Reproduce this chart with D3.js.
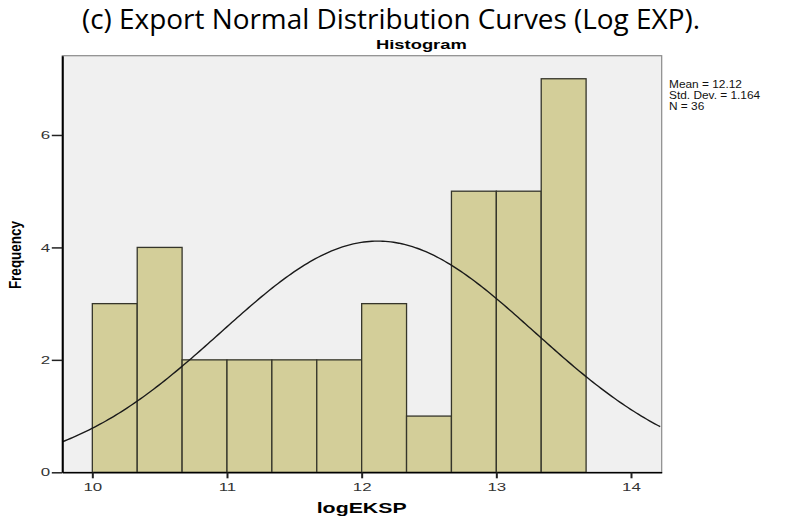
<!DOCTYPE html>
<html>
<head>
<meta charset="utf-8">
<script src="https://cdn.jsdelivr.net/npm/d3@7"></script>
<style>
  body { margin: 0; background: #fff; }
  text { font-family: "Liberation Sans", Arial, sans-serif; }
</style>
</head>
<body>
<div id="main-container"></div>
<script>
var width = 791,
    height = 522

// bins of logEKSP (lower edge), width 1/3
var binStarts = [10, 10.3333, 10.6667, 11, 11.3333, 11.6667, 12, 12.3333, 12.6667, 13, 13.3333]
var binCounts = [3, 4, 2, 2, 2, 2, 3, 1, 5, 5, 7]
var binWidth = 0.3333
var xTicks = [10, 11, 12, 13, 14]
var yTicks = [0, 2, 4, 6]
var statMean = 12.12, statSd = 1.164, statN = 36
var statLines = ["Mean = 12.12", "Std. Dev. = 1.164", "N = 36"]

var plot = {left: 62.3, right: 661.7, top: 55.7, bottom: 472.3}
var sx = 1.47 // the SPSS picture is stretched sideways

var svg = d3.select("#main-container").append("svg")
  .attr("width", width)
  .attr("height", height)

var x = d3.scaleLinear()
  .domain([9.777, 14.228])
  .range([plot.left, plot.right])

var y = d3.scaleLinear()
  .domain([0, 7.41])
  .range([plot.bottom, plot.top])

// plot background
svg.append("rect")
  .attr("x", plot.left)
  .attr("y", plot.top)
  .attr("width", plot.right - plot.left)
  .attr("height", plot.bottom - plot.top)
  .attr("fill", "#f0f0f0")
  .attr("stroke", "#8a8a8a")
  .attr("stroke-width", 1.2)

// bars
svg.append("g").selectAll("rect")
  .data(binCounts)
  .enter()
  .append("rect")
    .attr("x", function(d, i){ return x(binStarts[i]) })
    .attr("width", function(d, i){ return x(binStarts[i] + binWidth) - x(binStarts[i]) })
    .attr("y", function(d){ return y(d) })
    .attr("height", function(d){ return y(0) - y(d) })
    .attr("fill", "#d3ce99")
    .attr("stroke", "#35352a")
    .attr("stroke-width", 1.3)

// normal curve from the stats
var curvePts = d3.range(x.domain()[0], x.domain()[1] + 0.001, 0.02).map(function(v){
  var z = (v - statMean) / statSd
  return [v, statN * binWidth * Math.exp(-0.5 * z * z) / (statSd * Math.sqrt(2 * Math.PI))]
})

svg.append("clipPath").attr("id", "clip")
  .append("rect")
  .attr("x", plot.left).attr("y", plot.top)
  .attr("width", plot.right - plot.left).attr("height", plot.bottom - plot.top)

svg.append("path")
  .datum(curvePts)
  .attr("clip-path", "url(#clip)")
  .attr("fill", "none")
  .attr("stroke", "#1a1a1a")
  .attr("stroke-width", 1.4)
  .attr("d", d3.line()
    .x(function(d){ return x(d[0]) })
    .y(function(d){ return y(d[1]) }))

// axes
var xAxis = svg.append("g")
  .attr("transform", "translate(0," + plot.bottom + ")")
  .call(d3.axisBottom(x).tickValues(xTicks).tickFormat(d3.format("d")).tickSize(6).tickSizeOuter(0).tickPadding(4.6))
var yAxis = svg.append("g")
  .attr("transform", "translate(" + plot.left + ",0)")
  .call(d3.axisLeft(y).tickValues(yTicks).tickFormat(d3.format("d")).tickSize(10.5).tickSizeOuter(0))

svg.selectAll(".domain").attr("stroke", "#000")
xAxis.select(".domain").attr("stroke-width", 1.5)
yAxis.select(".domain").attr("stroke-width", 2)
xAxis.selectAll(".tick line").attr("stroke", "#222").attr("stroke-width", 2)
yAxis.selectAll(".tick line").attr("stroke", "#222").attr("stroke-width", 1.5)
svg.selectAll(".tick text")
  .attr("fill", "#333")
  .attr("transform", "scale(" + sx + ",1)")
  .style("font-size", "11.5px")
  .style("font-family", "'Liberation Sans', Arial, sans-serif")
yAxis.selectAll(".tick text").attr("x", -8.2)

// titles
svg.append("text")
  .attr("x", 82)
  .attr("y", 28.5)
  .attr("textLength", 618)
  .attr("lengthAdjust", "spacingAndGlyphs")
  .style("font-family", "'Open Sans', sans-serif")
  .style("font-size", "27px")
  .text("(c) Export Normal Distribution Curves (Log EXP).")

svg.append("text")
  .attr("transform", "translate(376,48.7) scale(" + sx + ",1)")
  .style("font-weight", "bold")
  .style("font-size", "12.5px")
  .text("Histogram")

svg.append("text")
  .attr("transform", "translate(316.7,513) scale(" + sx + ",1)")
  .style("font-weight", "bold")
  .style("font-size", "14.5px")
  .text("logEKSP")

svg.append("text")
  .attr("transform", "translate(21,255) scale(1.2,1) rotate(-90)")
  .attr("text-anchor", "middle")
  .style("font-weight", "bold")
  .style("font-size", "13.5px")
  .text("Frequency")

svg.append("g")
  .attr("transform", "translate(669,0) scale(1.1,1)")
  .selectAll("text")
  .data(statLines)
  .enter()
  .append("text")
    .attr("x", 0)
    .attr("y", function(d, i){ return 88 + i * 10.8 })
    .style("font-size", "10.8px")
    .attr("fill", "#111")
    .text(function(d){ return d })
</script>
</body>
</html>
